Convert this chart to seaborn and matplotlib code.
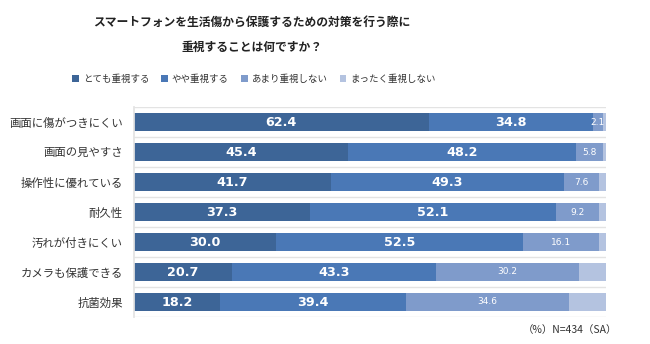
import matplotlib
matplotlib.use("Agg")
import matplotlib.pyplot as plt
import seaborn as sns
import pandas as pd
import numpy as np
from matplotlib.patches import Patch

categories = ["画面に傷がつきにくい", "画面の見やすさ", "操作性に優れている", "耐久性",
              "汚れが付きにくい", "カメラも保護できる", "抗菌効果"]
very = [62.4, 45.4, 41.7, 37.3, 30.0, 20.7, 18.2]
somewhat = [34.8, 48.2, 49.3, 52.1, 52.5, 43.3, 39.4]
notmuch = [2.1, 5.8, 7.6, 9.2, 16.1, 30.2, 34.6]
notatall = [0.7, 0.6, 1.4, 1.4, 1.4, 5.8, 7.8]
series_names = ["とても重視する", "やや重視する", "あまり重視しない", "まったく重視しない"]
colors = ["#3d6597", "#4a78b6", "#7f9bcb", "#b4c3e0"]

sns.set_theme(style="white")
plt.rcParams['font.family'] = ['Noto Sans CJK JP', 'DejaVu Sans']

df = pd.DataFrame({"cat": categories, "s1": very, "s2": somewhat, "s3": notmuch, "s4": notatall})
df["c1"] = df["s1"]
df["c2"] = df["c1"] + df["s2"]
df["c3"] = df["c2"] + df["s3"]
df["c4"] = df["c3"] + df["s4"]

fig = plt.figure(figsize=(6.5, 3.44), dpi=100)
ax = fig.add_axes([134/650, 1 - 317/344, (606 - 134)/650, 210/344])

for col, color in zip(["c4", "c3", "c2", "c1"], colors[::-1]):
    sns.barplot(data=df, x=col, y="cat", orient="h", color=color, width=0.57,
                saturation=1, ax=ax, linewidth=0)

ax.set_xlim(0, df["c4"].max())
ax.set_ylim(len(categories) - 0.5, -0.5)
ax.set_xlabel("")
ax.set_ylabel("")
ax.set_xticks([])
for y in np.arange(-0.5, len(categories), 1.0):
    ax.axhline(y, color="#e3e3e3", linewidth=1.0, zorder=0)
for s in ["top", "right", "bottom"]:
    ax.spines[s].set_visible(False)
ax.spines["left"].set_color("#e3e3e3")
ax.tick_params(axis="y", length=0, pad=8, labelsize=8.2, labelcolor="#333333")

for i in range(len(categories)):
    lefts = [0, df["c1"][i], df["c2"][i]]
    vals = [df["s1"][i], df["s2"][i], df["s3"][i]]
    for j, (l, v) in enumerate(zip(lefts, vals)):
        xc = l + v / 2
        if j < 2:
            ax.text(xc, i, f"{v:.1f}", ha="center", va="center", color="white",
                    fontsize=9.2, fontweight="bold", family=["DejaVu Sans"])
        else:
            ax.text(xc, i, f"{v:.1f}", ha="center", va="center", color="white",
                    fontsize=6.5, family=["DejaVu Sans"])

fig.text(252/650, 1 - 22/344, "スマートフォンを生活傷から保護するための対策を行う際に",
         ha="center", va="center", fontsize=8.5, fontweight="bold", color="#222222")
fig.text(252/650, 1 - 47/344, "重視することは何ですか？",
         ha="center", va="center", fontsize=8.5, fontweight="bold", color="#222222")

handles = [Patch(facecolor=c, edgecolor="none") for c in colors]
fig.legend(handles, series_names, loc="center", bbox_to_anchor=(254/650, 1 - 79/344),
           ncol=4, frameon=False, fontsize=6.8, handlelength=0.7, handleheight=0.7,
           handletextpad=0.4, columnspacing=1.3, labelcolor="#333333")

fig.text(617/650, 1 - 330/344, "（%）N=434（SA）", ha="right", va="center",
         fontsize=7.5, color="#333333")

fig.savefig("out.png", dpi=100, facecolor="white")
